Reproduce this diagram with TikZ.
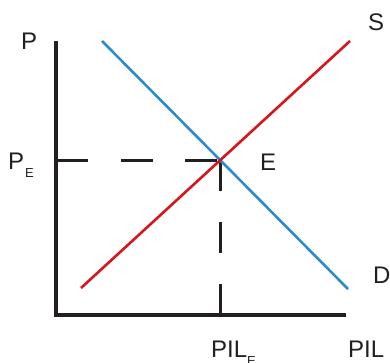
\documentclass[tikz,border=0pt]{standalone}
\usepackage{fontspec}
\setmainfont{Liberation Sans}
\usetikzlibrary{calc}

\begin{document}
\begin{tikzpicture}[x=1pt,y=-1pt] % one unit per pixel, y downwards

        % Colour definitions
        \definecolor{demand}{HTML}{2B8CC9} % Blue
        \definecolor{supply}{HTML}{D5161C} % Red
        \definecolor{axisgrey}{HTML}{231F20} % Near black

        \tikzset{
            lbl/.style={font=\fontsize{24}{28}\selectfont, text=axisgrey, inner sep=0pt, anchor=base west},
            axisline/.style={axisgrey, line width=3.2pt},
            curve/.style={line width=2.6pt},
            guide/.style={axisgrey, line width=3pt, dash pattern=on 32pt off 32.5pt}
        }
        \newcommand{\subE}{\raisebox{-8pt}{\fontsize{13}{14}\selectfont E}}

        \useasboundingbox (0,0) rectangle (390,363);

        % === Points ===
        \coordinate (O) at (56,315);
        \coordinate (Ytop) at (56,41);
        \coordinate (Xend) at (346,315);
        \coordinate (Dtop) at (102,41);
        \coordinate (Dbot) at (348,289);
        \coordinate (Sbot) at (81,288);
        \coordinate (Stop) at (350,41);
        \coordinate (E) at (intersection of Dtop--Dbot and Sbot--Stop);

        % === Axes ===
        \draw[axisline] (Ytop) -- (O) -- (Xend);

        % === Equilibrium guides (dashed) ===
        \draw[guide] (O |- E) -- (E);
        \draw[guide, dash pattern=on 31pt off 31pt] (E) -- (E |- O);

        % === Demand and supply ===
        \draw[curve, demand] (Dtop) -- (Dbot);
        \draw[curve, supply] (Sbot) -- (Stop);

        % === Labels ===
        \node[lbl] (Plbl) at (21,50) {P};
        \node[lbl] (PElbl) at (8,170) {P\hspace{1pt}\subE};
        \node[lbl] (Elbl) at (260,171) {E};
        \node[lbl] (Slbl) at (368,31) {S};
        \node[lbl] (Dlbl) at (373,283) {D};
        \node[lbl] (PILElbl) at (211,357) {PIL\subE};
        \node[lbl] (PILlbl) at (348,357) {PIL};

\end{tikzpicture}
\end{document}
